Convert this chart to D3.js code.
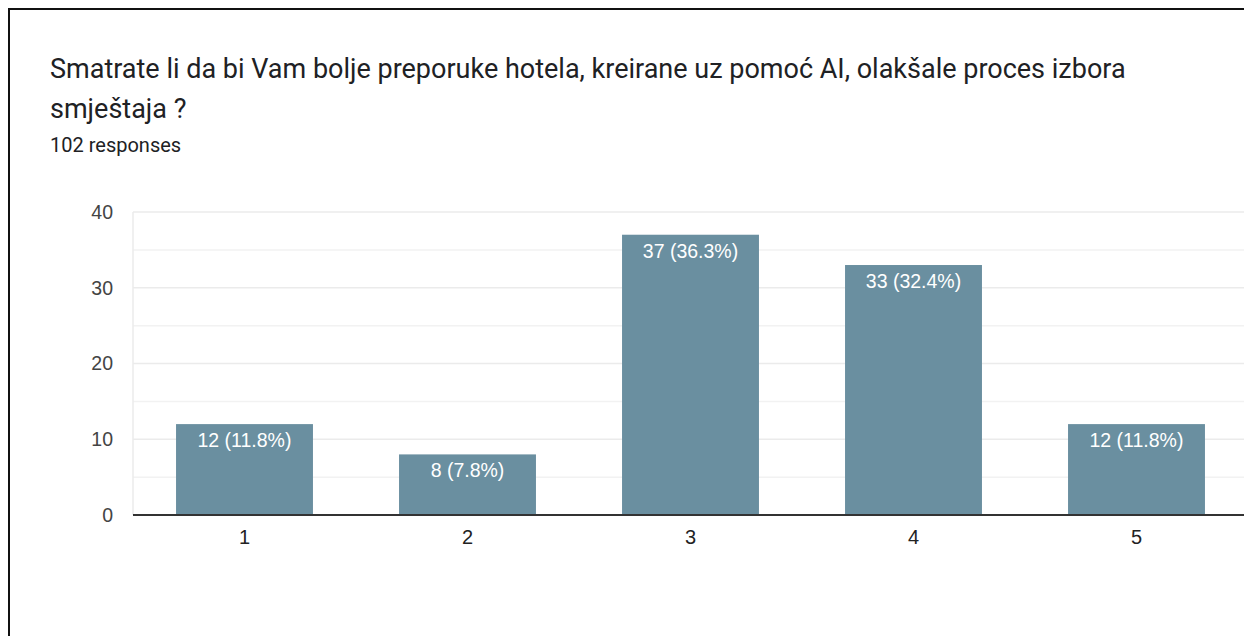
<!DOCTYPE html>
<html><head><meta charset="utf-8">
<script src="https://cdn.jsdelivr.net/npm/d3@7"></script>
<style>body{margin:0;background:#fff}svg{display:block}</style>
</head><body>
<script>
const titleLines = ["Smatrate li da bi Vam bolje preporuke hotela, kreirane uz pomoć AI, olakšale proces izbora", "smještaja ?"];
const subtitle = "102 responses";
const categories = ["1", "2", "3", "4", "5"];
const counts = [12, 8, 37, 33, 12];
const labels = ["12 (11.8%)", "8 (7.8%)", "37 (36.3%)", "33 (32.4%)", "12 (11.8%)"];
const yTicks = [0, 10, 20, 30, 40];
const yGrid = [5, 15, 25, 35];

const W = 1244, H = 636;
const svg = d3.select("body").append("svg").attr("width", W).attr("height", H);
svg.append("rect").attr("width", W).attr("height", H).attr("fill", "#fff");
svg.append("path").attr("d", `M9,${H} L9,9 L${W},9`).attr("fill", "none").attr("stroke", "#111").attr("stroke-width", 2);

const tf = "Roboto, 'Noto Sans', sans-serif";
svg.selectAll("text.title").data(titleLines).join("text").attr("class", "title")
  .attr("x", 50).attr("y", (d, i) => 78 + i * 40)
  .attr("font-family", tf).attr("font-size", 27).attr("fill", "#202124").text(d => d);
svg.append("text").attr("x", 50).attr("y", 152).attr("font-family", tf).attr("font-size", 20).attr("fill", "#202124").text(subtitle);

const x = d3.scaleBand().domain(categories).range([133, 133 + 5 * 223]).paddingInner(0.386).paddingOuter(0.193);
const y = d3.scaleLinear().domain([0, 40]).range([515, 212]);
const cf = "'Liberation Sans', Arial, sans-serif";

svg.selectAll("line.minor").data(yGrid).join("line").attr("x1", 133).attr("x2", W).attr("y1", d => y(d)).attr("y2", d => y(d)).attr("stroke", "#f2f2f2").attr("stroke-width", 1.5);
svg.selectAll("line.major").data(yTicks.filter(d => d > 0)).join("line").attr("x1", 133).attr("x2", W).attr("y1", d => y(d)).attr("y2", d => y(d)).attr("stroke", "#ebebeb").attr("stroke-width", 1.5);
svg.append("line").attr("x1", 133).attr("x2", 133).attr("y1", y(40)).attr("y2", y(0)).attr("stroke", "#ebebeb").attr("stroke-width", 1.5);

const yAxis = svg.append("g").attr("transform", "translate(133,0)").call(d3.axisLeft(y).tickValues(yTicks).tickSize(0).tickPadding(20));
yAxis.select(".domain").remove();
yAxis.selectAll("text").attr("font-family", cf).attr("font-size", 19.5).attr("fill", "#444");

svg.selectAll("rect.bar").data(counts).join("rect").attr("class", "bar")
  .attr("x", (d, i) => x(categories[i])).attr("width", x.bandwidth())
  .attr("y", d => y(d)).attr("height", d => y(0) - y(d)).attr("fill", "#6a8fa0");

svg.selectAll("text.lbl").data(counts).join("text").attr("class", "lbl")
  .attr("x", (d, i) => x(categories[i]) + x.bandwidth() / 2).attr("y", d => y(d) + 23)
  .attr("text-anchor", "middle").attr("font-family", cf).attr("font-size", 19.5).attr("fill", "#fff")
  .text((d, i) => labels[i]);

const xAxis = svg.append("g").attr("transform", `translate(0,${y(0)})`).call(d3.axisBottom(x).tickSize(0).tickPadding(15));
xAxis.select(".domain").attr("d", `M133,0H${W}`).attr("stroke", "#333").attr("stroke-width", 2);
xAxis.selectAll("text").attr("font-family", cf).attr("font-size", 20).attr("fill", "#222").attr("dy", "0.71em");
</script>
</body></html>
